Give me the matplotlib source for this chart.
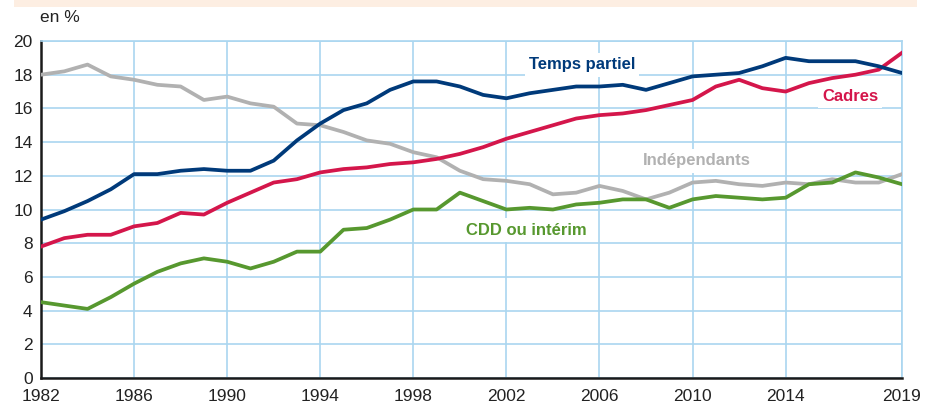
import matplotlib
matplotlib.use("Agg")
import matplotlib.pyplot as plt
from matplotlib.patches import Rectangle

years = list(range(1982, 2020))
temps_partiel = [9.4, 9.9, 10.5, 11.2, 12.1, 12.1, 12.3, 12.4, 12.3, 12.3, 12.9, 14.1, 15.1, 15.9, 16.3, 17.1, 17.6, 17.6, 17.3, 16.8,
                 16.6, 16.9, 17.1, 17.3, 17.3, 17.4, 17.1, 17.5, 17.9, 18.0, 18.1, 18.5, 19.0, 18.8, 18.8, 18.8, 18.5, 18.1]
cadres = [7.8, 8.3, 8.5, 8.5, 9.0, 9.2, 9.8, 9.7, 10.4, 11.0, 11.6, 11.8, 12.2, 12.4, 12.5, 12.7, 12.8, 13.0, 13.3, 13.7,
          14.2, 14.6, 15.0, 15.4, 15.6, 15.7, 15.9, 16.2, 16.5, 17.3, 17.7, 17.2, 17.0, 17.5, 17.8, 18.0, 18.3, 19.3]
independants = [18.0, 18.2, 18.6, 17.9, 17.7, 17.4, 17.3, 16.5, 16.7, 16.3, 16.1, 15.1, 15.0, 14.6, 14.1, 13.9, 13.4, 13.1, 12.3, 11.8,
                11.7, 11.5, 10.9, 11.0, 11.4, 11.1, 10.6, 11.0, 11.6, 11.7, 11.5, 11.4, 11.6, 11.5, 11.8, 11.6, 11.6, 12.1]
cdd_interim = [4.5, 4.3, 4.1, 4.8, 5.6, 6.3, 6.8, 7.1, 6.9, 6.5, 6.9, 7.5, 7.5, 8.8, 8.9, 9.4, 10.0, 10.0, 11.0, 10.5,
               10.0, 10.1, 10.0, 10.3, 10.4, 10.6, 10.6, 10.1, 10.6, 10.8, 10.7, 10.6, 10.7, 11.5, 11.6, 12.2, 11.9, 11.5]
x_ticks = [1982, 1986, 1990, 1994, 1998, 2002, 2006, 2010, 2014, 2019]
y_ticks = [0, 2, 4, 6, 8, 10, 12, 14, 16, 18, 20]

FONT = ["Liberation Sans Narrow", "Liberation Sans", "DejaVu Sans"]
plt.rcParams["font.family"] = FONT

NAVY = "#003a7a"
RED = "#d4164b"
GRAY = "#b1b1b1"
GREEN = "#57982f"
GRID = "#aad6f0"

fig = plt.figure(figsize=(9.33, 4.05), dpi=100)
# top beige band
fig.patches.append(Rectangle((0.015, 1 - 7 / 405), 0.968, 7 / 405, transform=fig.transFigure,
                             facecolor="#fdeee2", edgecolor="none"))

ax = fig.add_axes([41 / 933, 1 - 378 / 405, (902 - 41) / 933, (378 - 41) / 405])
ax.set_xlim(1982, 2019)
ax.set_ylim(0, 20)
ax.set_xticks(x_ticks)
ax.set_yticks(y_ticks)
ax.tick_params(length=0, labelsize=12.5, colors="#222222")
ax.tick_params(axis="x", pad=8)
ax.tick_params(axis="y", pad=6)
ax.grid(True, color=GRID, linewidth=1.2, zorder=0)
for s in ["top", "right"]:
    ax.spines[s].set_color(GRID)
    ax.spines[s].set_linewidth(1.2)
for s in ["left", "bottom"]:
    ax.spines[s].set_color("#1a1a1a")
    ax.spines[s].set_linewidth(1.8)
ax.set_axisbelow(True)

lw = 2.7
ax.plot(years, independants, color=GRAY, lw=lw, zorder=3, solid_joinstyle="round")
ax.plot(years, cdd_interim, color=GREEN, lw=lw, zorder=3, solid_joinstyle="round")
ax.plot(years, cadres, color=RED, lw=lw, zorder=4, solid_joinstyle="round")
ax.plot(years, temps_partiel, color=NAVY, lw=lw, zorder=5, solid_joinstyle="round")

bb = dict(facecolor="white", edgecolor="none", pad=3)
fs = 12
ax.text(2005.25, 18.58, "Temps partiel", color=NAVY, fontsize=fs, fontweight="bold", ha="center", va="center", bbox=bb, zorder=2)
ax.text(2016.77, 16.72, "Cadres", color=RED, fontsize=fs, fontweight="bold", ha="center", va="center", bbox=bb, zorder=2)
ax.text(2010.2, 12.88, "Indépendants", color=GRAY, fontsize=fs, fontweight="bold", ha="center", va="center", bbox=bb, zorder=2)
ax.text(2002.85, 8.78, "CDD ou intérim", color=GREEN, fontsize=fs, fontweight="bold", ha="center", va="center", bbox=bb, zorder=2)

fig.text(40 / 933, 1 - 18 / 405, "en %", fontsize=12.5, color="#222222", ha="left", va="center")

fig.savefig("out.png", dpi=100)
